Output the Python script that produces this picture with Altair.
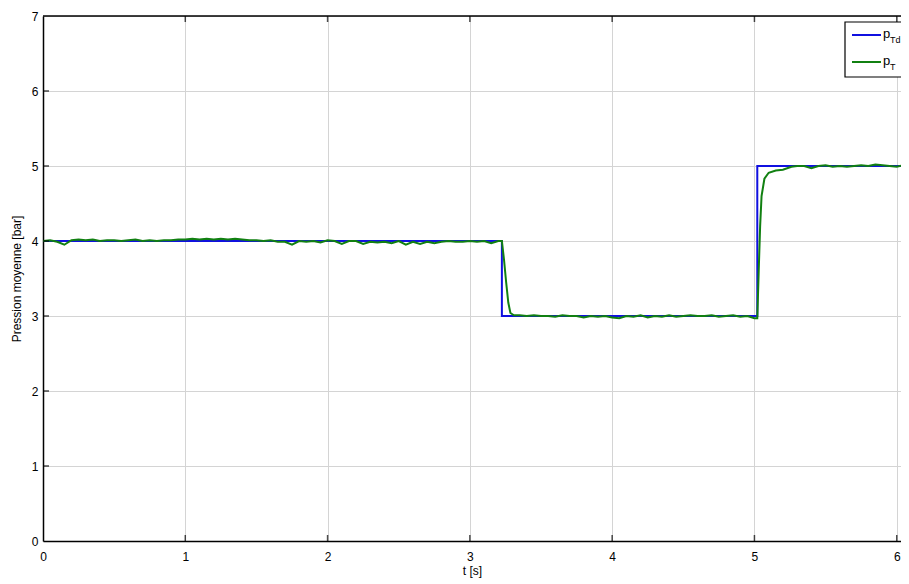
import altair as alt
import numpy as np
import pandas as pd

# ---- reference signal p_Td (step set-point) ----
ptd_t = [0.0, 3.225, 3.225, 5.02, 5.02, 6.08]
ptd_v = [4.0, 4.0, 3.0, 3.0, 5.0, 5.0]

# ---- measured p_T ----
seg1_t = np.round(np.arange(0.0, 3.2001, 0.05), 3).tolist()
seg1_v = [4.00, 4.01, 3.99, 3.95, 4.01, 4.02, 4.01, 4.02, 4.00, 4.01,
          4.01, 4.00, 4.01, 4.02, 4.00, 4.01, 4.00, 4.01, 4.01, 4.02,
          4.02, 4.03, 4.02, 4.03, 4.02, 4.03, 4.02, 4.03, 4.02, 4.01,
          4.01, 4.00, 4.01, 3.99, 3.99, 3.95, 4.00, 3.99, 4.00, 3.98,
          4.01, 4.00, 3.96, 4.00, 4.00, 3.96, 3.99, 3.98, 3.99, 3.97,
          4.00, 3.95, 3.99, 3.96, 3.99, 3.97, 3.99, 4.00, 3.99, 3.99,
          4.00, 3.99, 4.00, 3.97, 4.00]
drop_t = [3.225, 3.24, 3.255, 3.27, 3.285, 3.31]
drop_v = [4.00, 3.75, 3.45, 3.18, 3.04, 3.01]
seg2_t = np.round(np.arange(3.35, 5.0001, 0.05), 3).tolist()
seg2_v = [3.01, 3.00, 3.01, 3.00, 3.00, 2.99, 3.01, 3.00, 3.00, 2.98,
          3.00, 2.99, 3.00, 2.98, 2.97, 3.00, 2.99, 3.01, 2.98, 3.00,
          2.99, 3.01, 2.99, 3.00, 3.01, 3.00, 3.00, 3.01, 2.99, 3.00,
          3.01, 2.99, 3.00, 2.97]
rise_t = [5.02, 5.03, 5.04, 5.05, 5.07, 5.10, 5.15, 5.20, 5.26, 5.30]
rise_v = [2.97, 3.60, 4.20, 4.60, 4.83, 4.91, 4.94, 4.95, 4.99, 5.00]
seg3_t = np.round(np.arange(5.35, 6.0501, 0.05), 3).tolist() + [6.08]
seg3_v = [5.00, 4.97, 5.00, 5.01, 4.99, 5.00, 4.99, 5.00, 5.01, 5.00,
          5.02, 5.01, 5.00, 4.99, 5.01, 5.00]

x_ticks = [0, 1, 2, 3, 4, 5, 6]
y_ticks = [0, 1, 2, 3, 4, 5, 6, 7]

X_MAX = 6.03
W, H = 858, 525
FONT = "Liberation Sans"

pt_t = seg1_t + drop_t + seg2_t + rise_t + seg3_t
pt_v = seg1_v + drop_v + seg2_v + rise_v + seg3_v

df_ptd = pd.DataFrame({"t": ptd_t, "p": ptd_v, "i": range(len(ptd_t))})
df_pt = pd.DataFrame({"t": pt_t, "p": pt_v, "i": range(len(pt_t))})

xscale = alt.Scale(domain=[0, X_MAX], nice=False, zero=False)
yscale = alt.Scale(domain=[0, 7], nice=False)

xaxis = alt.Axis(values=x_ticks, format="d", grid=True, ticks=False, labelFlush=False,
                 labelOverlap=False, title="t [s]", labelPadding=10, titlePadding=3)
yaxis = alt.Axis(values=y_ticks, format="d", grid=True, ticks=False, labelFlush=False,
                 labelOverlap=False, title="Pression moyenne [bar]",
                 labelPadding=5, titlePadding=8)

base_ptd = alt.Chart(df_ptd).mark_line(color="#1010e0", strokeWidth=2, clip=True).encode(
    x=alt.X("t:Q", scale=xscale, axis=xaxis),
    y=alt.Y("p:Q", scale=yscale, axis=yaxis),
    order="i:Q",
)
base_pt = alt.Chart(df_pt).mark_line(color="#118011", strokeWidth=2, clip=True).encode(
    x=alt.X("t:Q", scale=xscale),
    y=alt.Y("p:Q", scale=yscale),
    order="i:Q",
)

# inward tick marks (MATLAB style)
df_yt = pd.DataFrame({"v": y_ticks[1:-1]})
df_xt = pd.DataFrame({"v": x_ticks[1:]})
left_ticks = alt.Chart(df_yt).mark_tick(orient="horizontal", size=12, thickness=1.5,
                                        color="black", clip=True).encode(
    x=alt.X(datum=0, scale=xscale), y=alt.Y("v:Q", scale=yscale))
bottom_ticks = alt.Chart(df_xt).mark_tick(orient="vertical", size=12, thickness=1.5,
                                          color="black", clip=True).encode(
    x=alt.X("v:Q", scale=xscale), y=alt.Y(datum=0, scale=yscale))
top_ticks = alt.Chart(df_xt).mark_tick(orient="vertical", size=12, thickness=1.5,
                                       color="black", clip=True).encode(
    x=alt.X("v:Q", scale=xscale), y=alt.Y(datum=7, scale=yscale))
top_border = alt.Chart(pd.DataFrame({"a": [0]})).mark_rule(color="black", strokeWidth=1.5).encode(
    x=alt.value(0), x2=alt.value(W), y=alt.Y(datum=7, scale=yscale))

# legend (hand built for subscripts)
one = pd.DataFrame({"a": [0]})
leg_box = alt.Chart(one).mark_rect(fill="white", stroke="black", strokeWidth=1.2).encode(
    x=alt.value(802), x2=alt.value(880), y=alt.value(6), y2=alt.value(61))
leg_l1 = alt.Chart(one).mark_rule(color="#1010e0", strokeWidth=2).encode(
    x=alt.value(809), x2=alt.value(838), y=alt.value(19))
leg_l2 = alt.Chart(one).mark_rule(color="#118011", strokeWidth=2).encode(
    x=alt.value(809), x2=alt.value(838), y=alt.value(46))
txt = dict(font=FONT, color="black", align="left", baseline="alphabetic")
leg_p1 = alt.Chart(one).mark_text(fontSize=13, **txt).encode(
    x=alt.value(840), y=alt.value(22), text=alt.value("p"))
leg_s1 = alt.Chart(one).mark_text(fontSize=9, **txt).encode(
    x=alt.value(847), y=alt.value(27), text=alt.value("Td"))
leg_p2 = alt.Chart(one).mark_text(fontSize=13, **txt).encode(
    x=alt.value(840), y=alt.value(49), text=alt.value("p"))
leg_s2 = alt.Chart(one).mark_text(fontSize=9, **txt).encode(
    x=alt.value(847), y=alt.value(54), text=alt.value("T"))

chart = alt.layer(
    base_ptd, base_pt, left_ticks, bottom_ticks, top_ticks, top_border,
    leg_box, leg_l1, leg_l2, leg_p1, leg_s1, leg_p2, leg_s2,
).properties(
    width=W, height=H,
    autosize=alt.AutoSizeParams(type="none"),
    padding={"left": 35, "top": 8, "right": 0, "bottom": 40},
    background="white",
).configure_view(
    stroke="transparent",
).configure_axis(
    gridColor="#d4d4d4", gridWidth=1,
    domainColor="black", domainWidth=1.5,
    labelFont=FONT, labelFontSize=12, labelColor="black",
    titleFont=FONT, titleFontSize=12, titleFontWeight="normal", titleColor="black",
)

chart.save("out.html", embed_options={"renderer": "svg", "actions": False})
